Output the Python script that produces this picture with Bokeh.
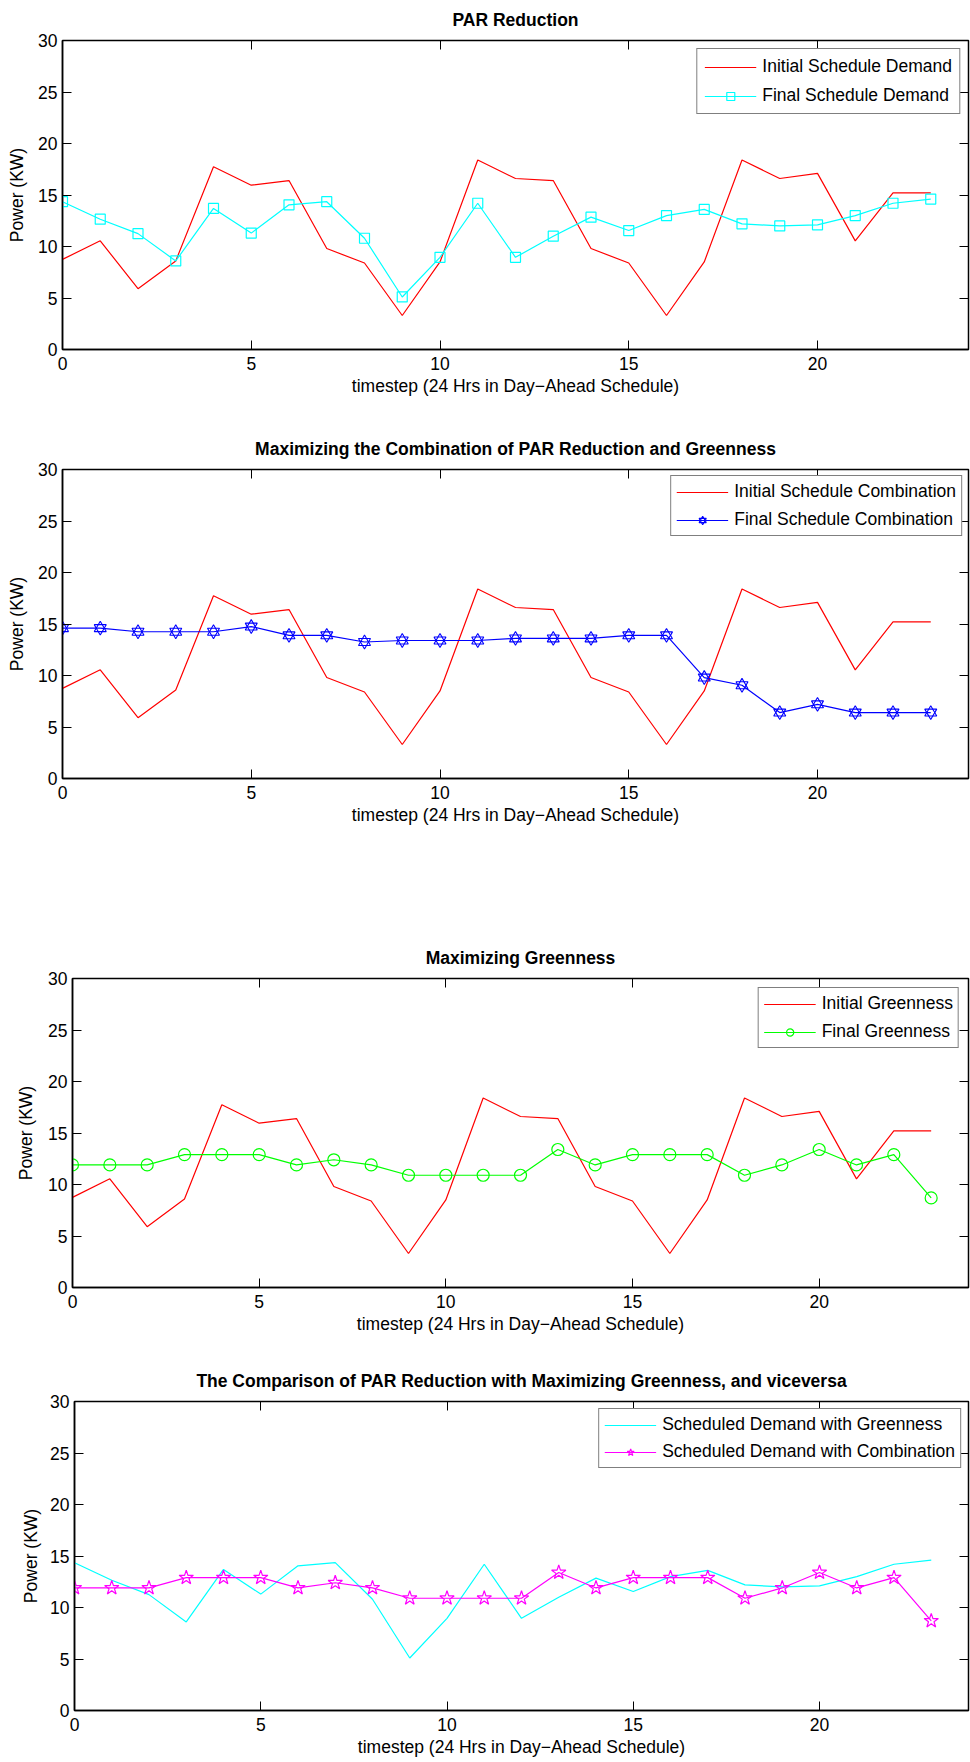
from bokeh.plotting import figure
from bokeh.models import LinearAxis, FixedTicker, Range1d
from bokeh.embed import file_html
from bokeh.resources import INLINE

hours = list(range(24))
x_ticks = [0, 5, 10, 15, 20]
y_ticks = [0, 5, 10, 15, 20, 25, 30]

initial_schedule = [8.75, 10.55, 5.9, 8.6, 17.75, 15.95, 16.4, 9.8, 8.4, 3.3, 8.5, 18.4,
                    16.6, 16.4, 9.8, 8.4, 3.3, 8.5, 18.4, 16.6, 17.1, 10.55, 15.2, 15.2]
final_demand = [14.35, 12.65, 11.25, 8.6, 13.7, 11.3, 14.05, 14.35, 10.8, 5.1, 8.95, 14.2,
                8.95, 11.0, 12.85, 11.55, 13.0, 13.6, 12.2, 12.0, 12.1, 13.0, 14.2, 14.6]
final_combination = [14.6, 14.6, 14.25, 14.25, 14.25, 14.75, 13.9, 13.9, 13.25, 13.4, 13.4, 13.4,
                     13.6, 13.6, 13.6, 13.9, 13.9, 9.8, 9.05, 6.4, 7.2, 6.4, 6.4, 6.4]
final_greenness = [11.9, 11.9, 11.9, 12.9, 12.9, 12.9, 11.9, 12.4, 11.9, 10.9, 10.9, 10.9,
                   10.9, 13.4, 11.9, 12.9, 12.9, 12.9, 10.9, 11.9, 13.4, 11.9, 12.9, 8.7]

titles = ["PAR Reduction",
          "Maximizing the Combination of PAR Reduction and Greenness",
          "Maximizing Greenness",
          "The Comparison of PAR Reduction with Maximizing Greenness, and viceversa"]
x_label = "timestep (24 Hrs in Day\u2212Ahead Schedule)"
y_label = "Power (KW)"

FONT = "Liberation Sans"
FS = "17.5px"


def make_fig(title, height, left, top, bottom, ylab_standoff, xlab_standoff=3, tick_standoff=7):
    p = figure(width=970, height=height, x_range=Range1d(0, 24), y_range=Range1d(0, 30),
               output_backend="svg", toolbar_location=None,
               min_border_left=left, min_border_right=2, min_border_top=top,
               min_border_bottom=bottom, title=title)
    p.title.text_font = FONT
    p.title.text_font_size = FS
    p.title.text_font_style = "bold"
    p.title.align = "center"
    p.title.vertical_align = "top"
    p.title.text_color = "black"
    p.title.standoff = 17
    p.grid.visible = False
    p.outline_line_color = "black"
    p.outline_line_width = 1.5
    p.background_fill_color = "white"
    p.border_fill_color = "white"
    p.xaxis.ticker = FixedTicker(ticks=x_ticks)
    p.yaxis.ticker = FixedTicker(ticks=y_ticks)
    p.xaxis.axis_label = x_label
    p.yaxis.axis_label = y_label
    for ax in (p.xaxis[0], p.yaxis[0]):
        ax.major_tick_in = 9
        ax.major_tick_out = 0
        ax.minor_tick_line_color = None
        ax.axis_line_color = "black"
        ax.axis_line_width = 1.5
        ax.major_tick_line_color = "black"
        ax.major_label_text_font = FONT
        ax.major_label_text_font_size = FS
        ax.major_label_text_color = "black"
        ax.axis_label_text_font = FONT
        ax.axis_label_text_font_size = FS
        ax.axis_label_text_font_style = "normal"
        ax.axis_label_text_color = "black"
    p.xaxis.major_label_standoff = tick_standoff
    p.yaxis.major_label_standoff = 5
    p.xaxis.axis_label_standoff = xlab_standoff
    p.yaxis.axis_label_standoff = ylab_standoff
    top_ax = LinearAxis(ticker=FixedTicker(ticks=x_ticks))
    right_ax = LinearAxis(ticker=FixedTicker(ticks=y_ticks))
    for ax in (top_ax, right_ax):
        ax.major_tick_in = 9
        ax.major_tick_out = 0
        ax.minor_tick_line_color = None
        ax.axis_line_color = None
        ax.major_tick_line_color = "black"
        ax.major_label_text_font_size = "1px"
        ax.major_label_text_color = None
        ax.major_label_standoff = 0
    p.add_layout(top_ax, "above")
    p.add_layout(right_ax, "right")
    return p


def style_legend(p, margin, padding, spacing, item_h):
    lg = p.legend[0]
    lg.location = "top_right"
    lg.margin = margin
    lg.label_text_font = FONT
    lg.label_text_font_size = FS
    lg.label_text_color = "black"
    lg.border_line_color = "black"
    lg.border_line_width = 1.5
    lg.background_fill_color = "white"
    lg.background_fill_alpha = 1
    lg.padding = padding
    lg.spacing = spacing
    lg.glyph_width = 52
    lg.glyph_height = item_h
    lg.label_height = item_h
    lg.label_standoff = 6


# Plot 1
p1 = make_fig(titles[0], 420, 62, 40, 71, 8)
p1.line(hours, initial_schedule, line_color="#ff0000", line_width=1.2, legend_label="Initial Schedule Demand")
p1.line(hours, final_demand, line_color="#00ffff", line_width=1.2, legend_label="Final Schedule Demand")
p1.scatter(hours, final_demand, marker="square", size=10, fill_color=None, line_color="#00ffff",
           line_width=1.2, legend_label="Final Schedule Demand")
style_legend(p1, 8, 7, 8, 20)

# Plot 2
p2 = make_fig(titles[1], 510, 62, 49, 152, 8)
p2.line(hours, initial_schedule, line_color="#ff0000", line_width=1.2, legend_label="Initial Schedule Combination")
p2.line(hours, final_combination, line_color="#0000ff", line_width=1.2, legend_label="Final Schedule Combination")
p2.scatter(hours, final_combination, marker="triangle", size=12, fill_color=None, line_color="#0000ff",
           line_width=1.1, legend_label="Final Schedule Combination")
p2.scatter(hours, final_combination, marker="inverted_triangle", size=12, fill_color=None, line_color="#0000ff",
           line_width=1.1, legend_label="Final Schedule Combination")
style_legend(p2, 6, 5, 7, 18)

# Plot 3
p3 = make_fig(titles[2], 430, 72, 48, 73, 9)
p3.line(hours, initial_schedule, line_color="#ff0000", line_width=1.2, legend_label="Initial Greenness")
p3.line(hours, final_greenness, line_color="#00ff00", line_width=1.2, legend_label="Final Greenness")
p3.scatter(hours, final_greenness, marker="circle", size=12, fill_color=None, line_color="#00ff00",
           line_width=1.2, legend_label="Final Greenness")
style_legend(p3, 9, 5, 7, 18)

# Plot 4
p4 = make_fig(titles[3], 402, 74, 41, 52, 6)
p4.line(hours, final_demand, line_color="#00ffff", line_width=1.2, legend_label="Scheduled Demand with Greenness")
p4.line(hours, final_greenness, line_color="#ff00ff", line_width=1.2, legend_label="Scheduled Demand with Combination")
p4.scatter(hours, final_greenness, marker="star", size=15, fill_color=None, line_color="#ff00ff",
           line_width=1.2, legend_label="Scheduled Demand with Combination")
style_legend(p4, 7, 5, 6, 18)

# separate roots, so that the four frames keep their own left edges
open("out.html", "w").write(file_html([p1, p2, p3, p4], INLINE))
